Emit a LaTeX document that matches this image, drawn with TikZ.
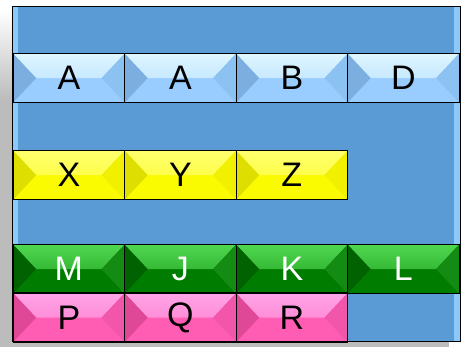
\documentclass[tikz,border=0pt]{standalone}
\usepackage{fontspec}
\setmainfont{Liberation Sans}
\definecolor{panelBlue}{RGB}{91,155,213}
\definecolor{panelEdge}{RGB}{140,200,250}
\definecolor{shadowGrey}{RGB}{188,188,188}
\definecolor{skyBase}{RGB}{153,204,255}
\definecolor{skyTop}{RGB}{222,246,255}
\definecolor{skyLeft}{RGB}{124,174,224}
\definecolor{skyRight}{RGB}{140,194,242}
\definecolor{lemonBase}{RGB}{250,250,0}
\definecolor{lemonTop}{RGB}{255,255,110}
\definecolor{lemonLeft}{RGB}{222,222,0}
\definecolor{lemonRight}{RGB}{240,240,0}
\definecolor{leafBase}{RGB}{0,125,0}
\definecolor{leafTop}{RGB}{80,215,80}
\definecolor{leafLeft}{RGB}{0,98,0}
\definecolor{leafRight}{RGB}{20,140,20}
\definecolor{roseBase}{RGB}{255,92,180}
\definecolor{roseTop}{RGB}{255,165,232}
\definecolor{roseLeft}{RGB}{222,72,150}
\definecolor{roseRight}{RGB}{242,86,170}

\begin{document}
\begin{tikzpicture}[
  x=1pt, y=-1pt,
  font=\fontsize{34}{40}\selectfont,
  cell/.style={draw=black, line width=1.2pt, minimum width=111.5pt, minimum height=49pt, inner sep=0pt, anchor=north west},
  bevel/.style n args={4}{cell, fill=#1, path picture={
    \shade[top color=#2, bottom color=#2!35!#1] (path picture bounding box.north west) -- (path picture bounding box.north east)
      -- ([xshift=-23pt]path picture bounding box.east) -- ([xshift=23pt]path picture bounding box.west) -- cycle;
    \fill[#3] (path picture bounding box.north west) -- ([xshift=23pt]path picture bounding box.west) -- (path picture bounding box.south west) -- cycle;
    \fill[#4] (path picture bounding box.north east) -- ([xshift=-23pt]path picture bounding box.east) -- (path picture bounding box.south east) -- cycle;
  }},
  skycell/.style={bevel={skyBase}{skyTop}{skyLeft}{skyRight}},
  lemoncell/.style={bevel={lemonBase}{lemonTop}{lemonLeft}{lemonRight}},
  leafcell/.style={bevel={leafBase}{leafTop}{leafLeft}{leafRight}, text=white},
  rosecell/.style={bevel={roseBase}{roseTop}{roseLeft}{roseRight}}
]
\useasboundingbox (0,0) rectangle (461,347);
% drop shadow
\fill[shadowGrey] (0,100) rectangle (449,347);
\shade[top color=white, bottom color=shadowGrey] (0,10) rectangle (449,100);

% panel
\node[draw=black, line width=1.2pt, fill=panelBlue, minimum width=448pt, minimum height=335pt, inner sep=0pt, anchor=north west] (panel) at (12,6) {};
\fill[panelEdge] ([xshift=1pt,yshift=-1pt]panel.north west) rectangle ([xshift=6pt,yshift=1pt]panel.south west);
\fill[panelEdge] ([xshift=-7pt,yshift=-1pt]panel.north east) rectangle ([xshift=-1pt,yshift=1pt]panel.south east);

% rows of cells
\foreach \lbl [count=\i from 0] in {A,A,B,D} \node[skycell] (sky\i) at (12.5+\i*111.5,53) {\lbl};
\foreach \lbl [count=\i from 0] in {X,Y,Z} \node[lemoncell] (lemon\i) at (12.5+\i*111.5,150) {\lbl};
\foreach \lbl [count=\i from 0] in {M,J,K,L} \node[leafcell] (leaf\i) at (12.5+\i*111.5,244) {\lbl};
\foreach \lbl [count=\i from 0] in {P,Q,R} \node[rosecell] (rose\i) at (12.5+\i*111.5,292.5) {\lbl};
\end{tikzpicture}
\end{document}
